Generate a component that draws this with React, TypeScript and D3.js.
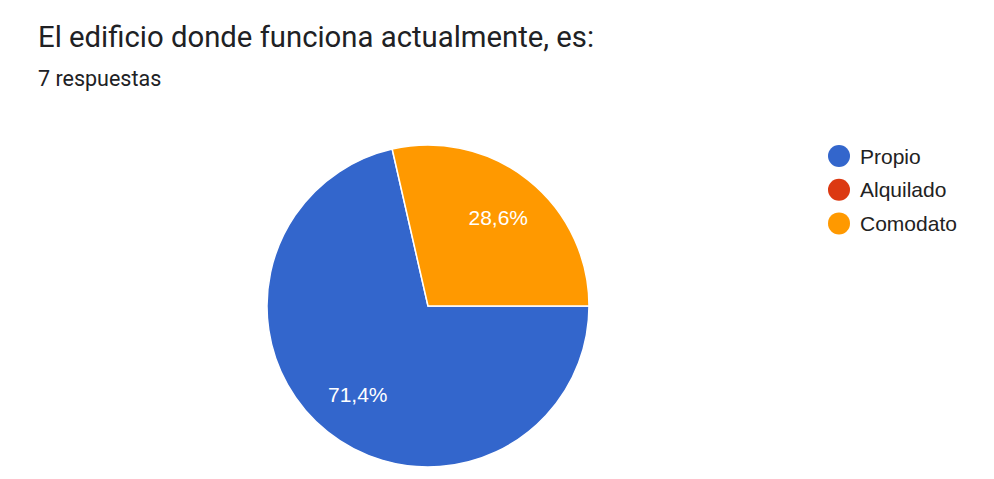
import { useMemo } from 'react';
import * as d3 from 'd3';

const WIDTH = 994;
const HEIGHT = 479;

const TITLE = 'El edificio donde funciona actualmente, es:';
const SUBTITLE = '7 respuestas';

const categories = ['Propio', 'Alquilado', 'Comodato'];
const counts = [5, 0, 2];
const colors = ['#3366cc', '#dc3912', '#ff9900'];

const CENTER = { x: 428, y: 306 };
const RADIUS = 161;

export default function App() {
  const total = d3.sum(counts);

  const slices = useMemo(() => {
    const pie = d3
      .pie<number>()
      .sort(null)
      .startAngle(Math.PI / 2)
      .endAngle(Math.PI / 2 + 2 * Math.PI)
      .value((d) => d);
    return pie(counts);
  }, []);

  const arc = d3.arc<d3.PieArcDatum<number>>().innerRadius(0).outerRadius(RADIUS);
  const labelArc = d3
    .arc<d3.PieArcDatum<number>>()
    .innerRadius(RADIUS * 0.7)
    .outerRadius(RADIUS * 0.7);

  const fmt = (v: number) => `${((v / total) * 100).toFixed(1).replace('.', ',')}%`;

  return (
    <svg
      width={WIDTH}
      height={HEIGHT}
      style={{ position: 'absolute', left: 0, top: 0, background: '#fff' }}
    >
      <text x={38} y={47} fontFamily="Roboto" fontSize={29.3} fill="#202124">
        {TITLE}
      </text>
      <text x={38} y={86} fontFamily="Roboto" fontSize={21.5} fill="#202124">
        {SUBTITLE}
      </text>

      <g transform={`translate(${CENTER.x},${CENTER.y})`}>
        {slices.map((s, i) =>
          s.value > 0 ? (
            <path
              key={categories[i]}
              d={arc(s) ?? ''}
              fill={colors[i]}
              stroke="#fff"
              strokeWidth={1.5}
            />
          ) : null
        )}
        {slices.map((s, i) => {
          if (s.value === 0) return null;
          const [lx, ly] = labelArc.centroid(s);
          return (
            <text
              key={categories[i]}
              x={lx}
              y={ly}
              dy="0.36em"
              textAnchor="middle"
              fontFamily="'Liberation Sans', Arial"
              fontSize={21}
              fill="#fff"
            >
              {fmt(s.value)}
            </text>
          );
        })}
      </g>

      {/* Legend */}
      {categories.map((c, i) => (
        <g key={c} transform={`translate(839,${156 + i * 33.7})`}>
          <circle r={11} fill={colors[i]} />
          <text
            x={21}
            dy="0.36em"
            fontFamily="'Liberation Sans', Arial"
            fontSize={21}
            fill="#222"
          >
            {c}
          </text>
        </g>
      ))}
    </svg>
  );
}
